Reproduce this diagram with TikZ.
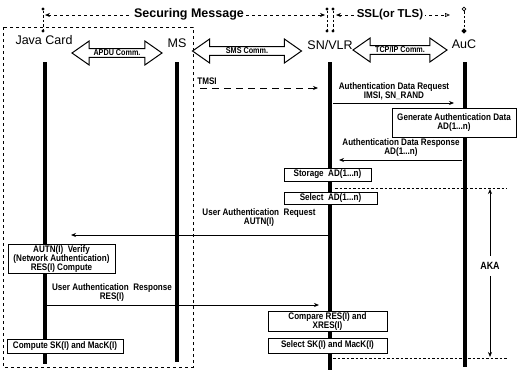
\documentclass[tikz,border=0pt]{standalone}
\usepackage{fontspec}
\setmainfont{Liberation Sans}
\newfontfamily\msgfont[FakeStretch=0.85]{Liberation Sans}
\usetikzlibrary{positioning,arrows.meta,shapes.arrows,shapes.geometric}

\begin{document}
\begin{tikzpicture}[x=1pt, y=-1pt, >={Stealth[length=5pt,width=4pt]},
  msg/.style={font=\msgfont\bfseries\fontsize{9.5}{9}\selectfont, align=center, inner sep=0pt},
  proc/.style={draw, line width=1pt, fill=white, align=center, inner sep=1pt,
    font=\msgfont\bfseries\fontsize{9.5}{9}\selectfont},
  actor/.style={font=\fontsize{12.5}{14}\selectfont, inner sep=0pt},
  head/.style={font=\bfseries\fontsize{12.5}{14}\selectfont, fill=white, inner sep=2pt},
  life/.style={line width=4pt},
  comm/.style={double arrow, draw, line width=1pt, fill=white, double arrow head extend=7pt,
    double arrow tip angle=70, minimum width=24pt, inner sep=0.5pt,
    font=\msgfont\bfseries\fontsize{8.5}{9}\selectfont},
  dotmark/.style={circle, fill, inner sep=0pt, minimum size=3.4pt},
  sep/.style={dash pattern=on 2.5pt off 2pt, line width=0.6pt}]

\useasboundingbox (0,0) rectangle (517,370);

\draw[dashed, line width=0.7pt] (3,27) rectangle (193,367);

\node[dotmark] (jcUp) at (43,9) {};
\node[dotmark] (jcDn) at (43,31) {};
\draw[sep] (jcUp) -- (jcDn);
\node[dotmark] (vlrUpL) at (327,9) {};
\node[dotmark] (vlrUpR) at (333,9) {};
\node[dotmark] (vlrDnL) at (327,31) {};
\node[dotmark] (vlrDnR) at (333,31) {};
\draw[sep] (vlrUpL) -- (vlrDnL);
\draw[sep] (vlrUpR) -- (vlrDnR);
\node[circle, draw, line width=0.7pt, inner sep=0pt, minimum size=3.8pt] (aucUp) at (464,9) {};
\node[diamond, fill, inner sep=0pt, minimum size=5.5pt] (aucDn) at (464,31) {};
\draw[sep] (aucUp) -- (aucDn);

\coordinate (smL) at (45,15);
\coordinate (smR) at (325,15);
\draw[<->, dashed, line width=0.7pt] (smL) -- (smR);
\node[head] (secmsg) at (189,14) {Securing Message};
\coordinate (sslL) at (336,15);
\coordinate (sslR) at (450,15);
\draw[{Stealth[length=5pt,width=4pt]}-{Triangle[open,length=5pt,width=4pt]}, dashed, line width=0.7pt] (sslL) -- (sslR);
\node[head, font=\bfseries\fontsize{11.5}{13}\selectfont] (ssl) at (390,15) {SSL(or TLS)};

\node[actor] (jc) at (44,40) {Java Card};
\node[actor] (ms) at (177,43) {MS};
\node[actor] (vlr) at (330,45) {SN/VLR};
\node[actor] (auc) at (464,44) {AuC};

\node[comm, minimum height=90pt] (apdu) at (117,53) {APDU Comm.};
\node[comm, minimum height=109pt] (sms) at (247,51) {SMS Comm.};
\node[comm, minimum height=94pt] (tcp) at (400,50) {TCP/IP Comm.};

\coordinate (jcA) at (45,62);
\coordinate (jcB) at (45,364);
\coordinate (msA) at (177,62);
\coordinate (msB) at (177,362);
\coordinate (vlrA) at (330,62);
\coordinate (vlrB) at (330,370);
\coordinate (aucA) at (465,62);
\coordinate (aucB) at (465,367);
\draw[life] (jcA) -- (jcB);
\draw[life] (msA) -- (msB);
\draw[life, line width=4.5pt] (vlrA) -- (vlrB);
\draw[life, line width=3.5pt] (aucA) -- (aucB);

\node[msg] (tmsi) at (207,81) {TMSI};
\coordinate (tmsiS) at (200,88);
\coordinate (tmsiE) at (318,88);
\draw[->, dash pattern=on 7pt off 5pt, line width=0.8pt] (tmsiS) -- (tmsiE);

\node[msg] (adreq) at (394,91.5) {Authentication Data Request\\IMSI, SN\_RAND};
\coordinate (adreqS) at (333,103);
\coordinate (adreqE) at (454,103);
\draw[->, line width=0.8pt] (adreqS) -- (adreqE);

\node[proc, minimum width=124pt, minimum height=29pt] (gen) at (454,122.5) {Generate Authentication Data\\AD(1...n)};

\node[msg] (adres) at (401,147.5) {Authentication Data Response\\AD(1...n)};
\coordinate (adresS) at (462,160);
\coordinate (adresE) at (339,160);
\draw[->, line width=0.8pt] (adresS) -- (adresE);

\node[proc, minimum width=87pt, minimum height=13pt] (store) at (327.5,174.5) {Storage\ \ AD(1...n)};
\node[proc, minimum width=93pt, minimum height=12pt] (selad) at (330.5,198) {Select\ \ AD(1...n)};

\coordinate (akaTL) at (335,188);
\coordinate (akaTR) at (507,188);
\coordinate (akaBL) at (333,358);
\coordinate (akaBR) at (507,358);
\draw[sep] (akaTL) -- (akaTR);
\draw[sep] (akaBL) -- (akaBR);
\node[font=\msgfont\bfseries\fontsize{10.5}{11}\selectfont, inner sep=6pt] (aka) at (490,266) {AKA};
\coordinate (akaUp) at (490,189);
\coordinate (akaDn) at (490,357);
\draw[->, line width=0.7pt] (aka) -- (akaUp);
\draw[->, line width=0.7pt] (aka) -- (akaDn);

\node[msg] (uareq) at (259,218) {User Authentication\ \ Request\\AUTN(I)};
\coordinate (uareqS) at (328,235);
\coordinate (uareqE) at (71,235);
\draw[->, line width=0.8pt] (uareqS) -- (uareqE);

\node[proc, minimum width=107pt, minimum height=29pt] (autn) at (61.5,259) {AUTN(I)\ \ Verify\\(Network Authentication)\\RES(I) Compute};

\node[msg] (uares) at (112,293) {User Authentication\ \ Response\\RES(I)};
\coordinate (uaresS) at (47,305);
\coordinate (uaresE) at (319,305);
\draw[->, line width=0.8pt] (uaresS) -- (uaresE);

\node[proc, minimum width=119pt, minimum height=20pt] (cmp) at (327.5,321.5) {Compare RES(I) and\\XRES(I)};
\node[proc, minimum width=119pt, minimum height=15pt] (selsk) at (327.5,345.5) {Select SK(I) and MacK(I)};
\node[proc, minimum width=116pt, minimum height=14pt] (compsk) at (65,346.5) {Compute SK(I) and MacK(I)};

\end{tikzpicture}
\end{document}
